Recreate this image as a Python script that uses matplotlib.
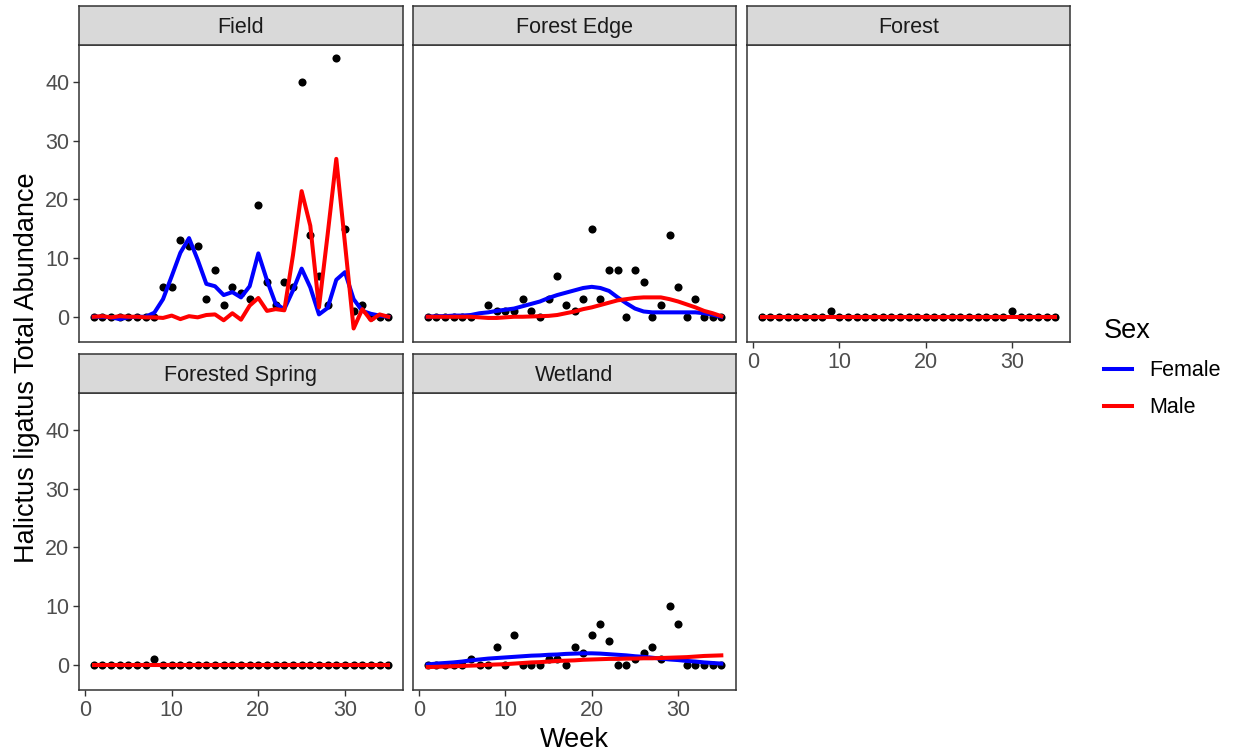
import numpy as np
import matplotlib
matplotlib.use("Agg")
import matplotlib.pyplot as plt
from matplotlib.lines import Line2D

plt.rcParams['font.family'] = ['Liberation Sans', 'DejaVu Sans']

# ---- data -------------------------------------------------------------
weeks = list(range(1, 36))
sites = ["Field", "Forest Edge", "Forest", "Forested Spring", "Wetland"]

# weekly observed totals per site (nan = no sample)
field_counts = [0, 0, 0, 0, 0, 0, 0, 0, 5, 5, 13, 12, 12, 3, 8, 2, 5, 4, 3, 19,
                6, 2, 6, 5, 40, 14, 7, 2, 44, 15, 1, 2, 0, 0, 0]
edge_counts = [0, 0, 0, 0, 0, 0, np.nan, 2, 1, 1, 1, 3, 1, 0, 3, 7, 2, 1, 3, 15,
               3, 8, 8, 0, 8, 6, 0, 2, 14, 5, 0, 3, 0, 0, 0]
forest_counts = [0, 0, 0, 0, 0, 0, 0, 0, 1, 0, 0, 0, 0, 0, 0, 0, 0, 0, 0, 0,
                 0, 0, 0, 0, 0, 0, 0, 0, 0, 1, 0, 0, 0, 0, 0]
spring_counts = [0, 0, 0, 0, 0, 0, 0, 1, 0, 0, 0, 0, 0, 0, 0, 0, 0, 0, 0, 0,
                 0, 0, 0, 0, 0, 0, 0, 0, 0, 0, 0, 0, 0, 0, 0]
wetland_counts = [0, 0, 0, 0, 0, 1, 0, 0, 3, 0, 5, 0, 0, 0, 1, 1, 0, 3, 2, 5,
                  7, 4, 0, 0, 1, 2, 3, 1, 10, 7, 0, 0, 0, 0, 0]

# fitted weekly abundance by sex
field_female = [0, 0, -0.1, -0.4, -0.1, 0, 0, 0.7, 3.0, 6.9, 10.9, 13.4, 9.7, 5.6,
                5.2, 3.7, 4.2, 3.3, 5.2, 10.8, 6.2, 2.2, 1.3, 4.5, 8.2, 5.0, 0.4,
                1.5, 6.3, 7.6, 3.0, 1.0, 0.5, 0.2, 0.0]
field_male = [0, 0.1, -0.1, 0.1, 0, 0, -0.1, -0.1, -0.2, 0.2, -0.4, 0.1, -0.1, 0.3,
              0.4, -0.6, 0.6, -0.5, 1.9, 3.2, 1.0, 1.3, 1.1, 10.5, 21.4, 15.5, 1.6,
              14.0, 26.9, 12.5, -2.0, 1.3, -0.6, 0.4, 0.0]
edge_female = [0, 0.1, 0.1, 0.2, 0.2, 0.3, 0.6, 0.75, 1.0, 1.2, 1.4, 1.8, 2.2, 2.6,
               3.2, 3.7, 4.1, 4.5, 4.9, 5.1, 4.9, 4.4, 3.3, 2.3, 1.4, 0.9, 0.75,
               0.75, 0.75, 0.75, 0.75, 0.75, 0.6, 0.35, 0.0]
edge_male = [0, 0, 0, 0, 0, 0, -0.1, -0.2, -0.2, -0.1, 0, 0, 0.05, 0.1, 0.15, 0.3,
             0.6, 0.9, 1.3, 1.6, 2.0, 2.4, 2.8, 3.0, 3.2, 3.3, 3.3, 3.3, 3.0, 2.6,
             2.1, 1.6, 1.0, 0.6, 0.1]
forest_female = [0] * 35
forest_male = [0] * 35
spring_female = [0] * 35
spring_male = [0] * 35
wetland_female = [0.05, 0.2, 0.3, 0.4, 0.55, 0.75, 0.9, 1.05, 1.15, 1.25, 1.35, 1.45,
                  1.55, 1.6, 1.7, 1.75, 1.85, 1.9, 1.95, 1.95, 1.9, 1.8, 1.7, 1.6,
                  1.45, 1.35, 1.2, 1.05, 0.9, 0.8, 0.65, 0.55, 0.4, 0.3, 0.2]
wetland_male = [-0.4, -0.35, -0.3, -0.25, -0.2, -0.15, -0.1, 0, 0.05, 0.1, 0.2, 0.3,
                0.4, 0.45, 0.55, 0.65, 0.7, 0.75, 0.85, 0.9, 0.95, 1.0, 1.0, 1.05,
                1.05, 1.1, 1.1, 1.15, 1.2, 1.25, 1.3, 1.4, 1.5, 1.55, 1.6]

counts = [field_counts, edge_counts, forest_counts, spring_counts, wetland_counts]
female = [field_female, edge_female, forest_female, spring_female, wetland_female]
male = [field_male, edge_male, forest_male, spring_male, wetland_male]

x_ticks = [0, 10, 20, 30]
y_ticks = [0, 10, 20, 30, 40]

# ---- layout -----------------------------------------------------------
W, H = 1246, 756
fig = plt.figure(figsize=(W / 100, H / 100), dpi=100)


def rect(l, t, r, b):
    return [l / W, 1 - b / H, (r - l) / W, (b - t) / H]


cols = [(79, 403), (413, 736), (747, 1070)]
rows = [(6, 45, 342), (354, 393, 690)]

BLUE, RED = "#0000FF", "#FF0000"
EDGE = "#333333"
SMALL, LARGE = 15.5, 19.5
LW = 2.9

# shared scales with 5% expansion
xmin, xmax = min(weeks), max(weeks)
xpad = 0.05 * (xmax - xmin)
allv = np.concatenate([np.array(v, float) for v in counts + female + male])
ymin, ymax = np.nanmin(allv), np.nanmax(allv)
ypad = 0.05 * (ymax - ymin)

for i, site in enumerate(sites):
    r, c = divmod(i, 3)
    l, rr = cols[c]
    st, sb, pb = rows[r]
    ax = fig.add_axes(rect(l, sb, rr, pb))
    ax.scatter(weeks, counts[i], s=34, color="black", linewidths=0, zorder=2)
    ax.plot(weeks, female[i], color=BLUE, lw=LW, zorder=3)
    ax.plot(weeks, male[i], color=RED, lw=LW, zorder=4)
    ax.set_xlim(xmin - xpad, xmax + xpad)
    ax.set_ylim(ymin - ypad, ymax + ypad)
    ax.set_xticks(x_ticks)
    ax.set_yticks(y_ticks)
    for s in ax.spines.values():
        s.set_color(EDGE)
        s.set_linewidth(1.1)
    ax.tick_params(direction="out", length=4, width=1, color=EDGE,
                   labelcolor="#4D4D4D", labelsize=SMALL, pad=3)
    has_below = (i + 3) < len(sites)
    if has_below:
        ax.tick_params(bottom=False, labelbottom=False)
    if c != 0:
        ax.tick_params(left=False, labelleft=False)

    strip = fig.add_axes(rect(l, st, rr, sb))
    strip.set_facecolor("#D9D9D9")
    strip.set_xticks([])
    strip.set_yticks([])
    for s in strip.spines.values():
        s.set_color(EDGE)
        s.set_linewidth(1.1)
    strip.text(0.5, 0.45, site, ha="center", va="center", fontsize=SMALL,
               color="#1A1A1A", transform=strip.transAxes)

fig.text((79 + 1070) / 2 / W, 1 - 740 / H, "Week", ha="center", va="center",
         fontsize=LARGE)
fig.text(27 / W, 1 - (45 + 690) / 2 / H, "Halictus ligatus Total Abundance",
         ha="center", va="center", rotation=90, fontsize=LARGE)

handles = [Line2D([], [], color=BLUE, lw=LW), Line2D([], [], color=RED, lw=LW)]
fig.legend(handles, ["Female", "Male"], title="Sex", loc="upper left",
           bbox_to_anchor=(1104 / W, 1 - 318 / H), frameon=False,
           fontsize=SMALL, title_fontsize=LARGE, handlelength=1.3,
           handletextpad=0.8, labelspacing=0.75, alignment="left",
           borderpad=0, borderaxespad=0)

fig.savefig("out.png", dpi=100)
